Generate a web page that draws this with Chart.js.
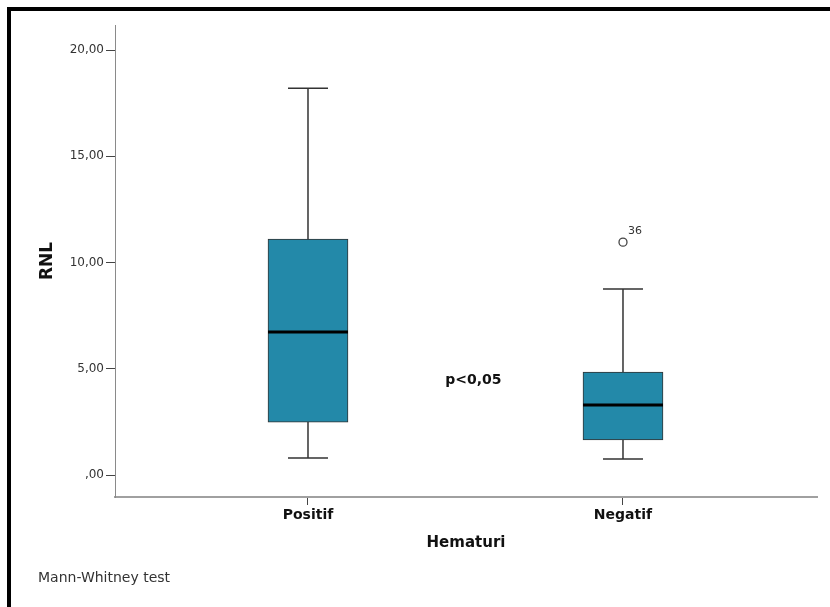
<!DOCTYPE html>
<html>
<head>
<meta charset="utf-8">
<script src="https://cdn.jsdelivr.net/npm/chart.js@4/dist/chart.umd.min.js"></script>
<style>
html,body{margin:0;padding:0;background:#fff;}
#wrap{position:relative;width:830px;height:607px;overflow:hidden;background:#fff;}
#frame{position:absolute;left:7px;top:7px;width:840px;height:620px;border-top:4px solid #000;border-left:4px solid #000;pointer-events:none;}
canvas{position:absolute;left:0;top:0;}
</style>
</head>
<body>
<div id="wrap"><canvas id="c" width="830" height="607"></canvas><div id="frame"></div></div>
<script>
// ---- data ----
const categories = ['Positif', 'Negatif'];
const whiskerLow  = [0.80, 0.75];
const q1          = [2.49, 1.65];
const median      = [6.73, 3.29];
const q3          = [11.10, 4.85];
const whiskerHigh = [18.20, 8.75];
const outlierCategory = ['Negatif'];
const outlierValue    = [10.96];
const outlierLabel    = ['36'];
const yTicks      = [0, 5, 10, 15, 20];
const yTickLabels = [',00', '5,00', '10,00', '15,00', '20,00'];
const yAxisTitle = 'RNL';
const xAxisTitle = 'Hematuri';
const pText = 'p<0,05';
const footnote = 'Mann-Whitney test';

const FONT = '"DejaVu Sans", "Liberation Sans", Arial, sans-serif';

const boxData = categories.map((c, i) => ({x: i + 1, y: [q1[i], q3[i]]}));
const outlierData = outlierCategory.map((c, k) => ({x: categories.indexOf(c) + 1, y: outlierValue[k]}));

const boxPlugin = {
  id: 'boxExtras',
  afterDatasetsDraw(chart) {
    const ctx = chart.ctx;
    const xs = chart.scales.x, ys = chart.scales.y;
    const meta = chart.getDatasetMeta(0);
    ctx.save();
    categories.forEach((c, i) => {
      const bar = meta.data[i];
      const cx = xs.getPixelForValue(i + 1);
      const half = bar.width / 2;
      const cap = half / 2;
      const yHi = ys.getPixelForValue(whiskerHigh[i]);
      const yQ3 = ys.getPixelForValue(q3[i]);
      const yQ1 = ys.getPixelForValue(q1[i]);
      const yLo = ys.getPixelForValue(whiskerLow[i]);
      const yMed = ys.getPixelForValue(median[i]);
      ctx.strokeStyle = '#333';
      ctx.lineWidth = 1.5;
      ctx.beginPath();
      ctx.moveTo(cx, yQ3); ctx.lineTo(cx, yHi);
      ctx.moveTo(cx - cap, yHi); ctx.lineTo(cx + cap, yHi);
      ctx.moveTo(cx, yQ1); ctx.lineTo(cx, yLo);
      ctx.moveTo(cx - cap, yLo); ctx.lineTo(cx + cap, yLo);
      ctx.stroke();
      ctx.strokeStyle = '#000';
      ctx.lineWidth = 3;
      ctx.beginPath();
      ctx.moveTo(cx - half, yMed); ctx.lineTo(cx + half, yMed);
      ctx.stroke();
    });
    // outlier labels
    ctx.fillStyle = '#333';
    ctx.font = '11px ' + FONT;
    ctx.textAlign = 'left';
    ctx.textBaseline = 'middle';
    outlierCategory.forEach((c, k) => {
      const px = xs.getPixelForValue(categories.indexOf(c) + 1);
      const py = ys.getPixelForValue(outlierValue[k]);
      ctx.fillText(outlierLabel[k], px + 5, py - 11);
    });
    // p-value annotation
    ctx.fillStyle = '#111';
    ctx.font = 'bold 14px ' + FONT;
    ctx.textAlign = 'center';
    ctx.fillText(pText, xs.getPixelForValue(1.525), ys.getPixelForValue(4.45));
    // footnote
    ctx.fillStyle = '#333';
    ctx.font = '14px ' + FONT;
    ctx.textAlign = 'left';
    ctx.fillText(footnote, 38, 578);
    ctx.restore();
  }
};

new Chart(document.getElementById('c'), {
  type: 'bar',
  data: {
    datasets: [
      {
        type: 'bar',
        data: boxData,
        backgroundColor: '#2389a9',
        borderColor: '#333',
        borderWidth: 1,
        borderSkipped: false,
        barThickness: 80
      },
      {
        type: 'scatter',
        data: outlierData,
        pointRadius: 4,
        pointBorderWidth: 1.3,
        pointBorderColor: '#444',
        pointBackgroundColor: '#fff'
      }
    ]
  },
  options: {
    responsive: false,
    animation: false,
    events: [],
    layout: {padding: {top: 25, right: 13, bottom: 50, left: 0}},
    plugins: {legend: {display: false}, tooltip: {enabled: false}},
    scales: {
      x: {
        type: 'linear',
        offset: false,
        min: 0.3873,
        max: 2.6159,
        afterBuildTicks(scale) { scale.ticks = categories.map((c, i) => ({value: i + 1})); },
        afterFit(scale) { scale.height = 60; },
        ticks: {
          callback: (v) => categories[Math.round(v) - 1],
          font: {family: FONT, size: 14, weight: 'bold'},
          color: '#111',
          padding: 2,
          maxRotation: 0,
          autoSkip: false
        },
        grid: {offset: false, drawOnChartArea: false, drawTicks: true, tickLength: 8, color: '#444', lineWidth: 1},
        border: {display: true, color: '#a0a0a0', width: 2},
        title: {display: true, text: xAxisTitle, font: {family: FONT, size: 15, weight: 'bold'}, color: '#111', padding: {top: 0, bottom: 5}}
      },
      y: {
        type: 'linear',
        min: -1.035,
        max: 21.18,
        afterBuildTicks(scale) { scale.ticks = yTicks.map(v => ({value: v})); },
        afterFit(scale) { scale.width = 115; },
        ticks: {
          callback: (v) => yTickLabels[yTicks.indexOf(v)],
          font: {family: FONT, size: 12},
          color: '#333',
          padding: 2,
          autoSkip: false
        },
        grid: {drawOnChartArea: false, drawTicks: true, tickLength: 9, color: '#444', lineWidth: 1},
        border: {display: true, color: '#8a8a8a', width: 1},
        title: {display: true, text: yAxisTitle, font: {family: FONT, size: 17, weight: 'bold'}, color: '#111', padding: {top: 37, bottom: 0}}
      }
    }
  },
  plugins: [boxPlugin]
});
</script>
</body>
</html>
